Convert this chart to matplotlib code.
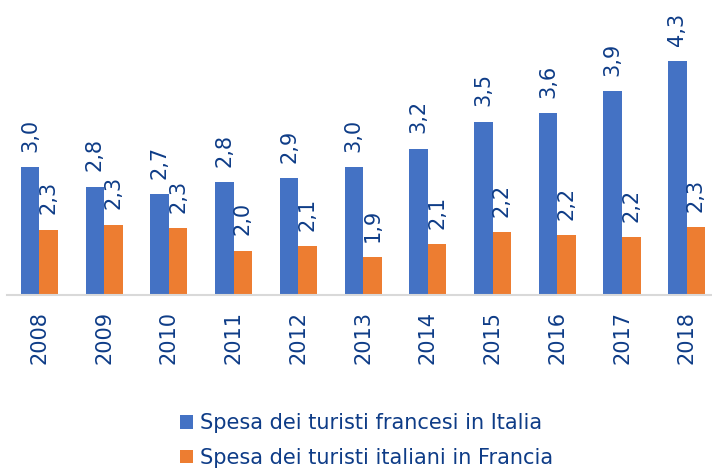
import matplotlib
matplotlib.use("Agg")
import matplotlib.pyplot as plt
import numpy as np

plt.rcParams["font.family"] = ["DejaVu Sans"]

# dati (miliardi di euro)
anni = ["2008", "2009", "2010", "2011", "2012", "2013",
        "2014", "2015", "2016", "2017", "2018"]
francesi_in_italia = [3.00, 2.77, 2.68, 2.82, 2.87, 3.00,
                      3.22, 3.54, 3.64, 3.90, 4.26]
italiani_in_francia = [2.26, 2.32, 2.28, 2.01, 2.06, 1.93,
                       2.09, 2.23, 2.19, 2.17, 2.29]

BLU = "#4472C4"
ARANCIO = "#ED7D31"
TESTO = "#0E3C87"

fig = plt.figure(figsize=(7.12, 4.70), dpi=100)
W, H = 712, 470
ymin, ytop = 1.49, 4.60
px_per_unit = 84.3
base_y = 294.5  # pixel dall'alto
ax_h = (ytop - ymin) * px_per_unit
ax = fig.add_axes([7.1 / W, (H - base_y) / H, 712 / W, ax_h / H])

x = np.arange(len(anni))
w = 0.286
b1 = ax.bar(x - w / 2, francesi_in_italia, w, color=BLU,
            label="Spesa dei turisti francesi in Italia")
b2 = ax.bar(x + w / 2, italiani_in_francia, w, color=ARANCIO,
            label="Spesa dei turisti italiani in Francia")

fmt = lambda v: f"{v:.1f}".replace(".", ",")
for bars, vals in ((b1, francesi_in_italia), (b2, italiani_in_francia)):
    for rect, v in zip(bars, vals):
        ax.annotate(fmt(v), (rect.get_x() + rect.get_width() / 2, v),
                    xytext=(0, 11), textcoords="offset points",
                    rotation=90, ha="center", va="bottom",
                    fontsize=15, color=TESTO)

ax.set_xlim(-0.5, len(anni) - 0.5)
ax.set_ylim(ymin, ytop)
ax.set_xticks(x)
ax.set_xticklabels(anni, rotation=90, fontsize=15, color=TESTO)
ax.tick_params(axis="x", length=0, pad=12)
ax.set_yticks([])
for s in ("top", "left", "right"):
    ax.spines[s].set_visible(False)
ax.spines["bottom"].set_color("#D9D9D9")
ax.spines["bottom"].set_linewidth(1.5)

fig.legend(handles=[b1, b2], loc="upper left",
           bbox_to_anchor=(172 / W, 1 - 405 / H), ncol=1, frameon=False,
           fontsize=15, labelcolor=TESTO, handlelength=0.62,
           handleheight=0.62, handletextpad=0.3, labelspacing=0.7,
           borderaxespad=0)

fig.savefig("out.png", dpi=100)
